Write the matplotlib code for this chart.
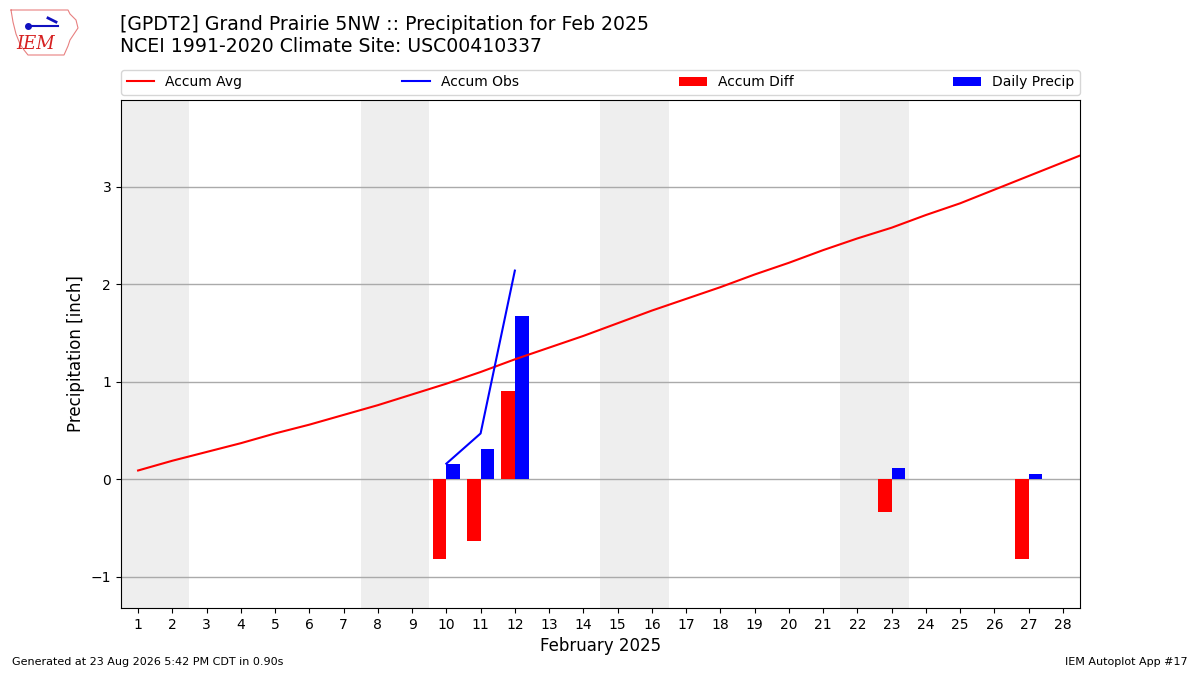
import matplotlib
matplotlib.use('Agg')
import matplotlib.pyplot as plt
import numpy as np

# climatology accumulated average, days 1..29 (29 used only to run line to the edge)
avg_days = np.arange(1, 30)
accum_avg = [0.09, 0.19, 0.28, 0.37, 0.47, 0.56, 0.66, 0.76, 0.87, 0.98,
             1.10, 1.23, 1.35, 1.47, 1.60, 1.73, 1.85, 1.97, 2.10, 2.22,
             2.35, 2.47, 2.58, 2.71, 2.83, 2.97, 3.11, 3.25, 3.39]

obs_days = [10, 11, 12]
accum_obs = [0.16, 0.47, 2.14]

precip_days = [10, 11, 12, 23, 27]
daily_precip = [0.16, 0.31, 1.67, 0.12, 0.05]
accum_diff = [-0.82, -0.63, 0.91, -0.34, -0.82]

weekend_starts = [1, 8, 15, 22]
xticks = list(range(1, 29))

fig = plt.figure(figsize=(12, 6.75), dpi=100)
ax = fig.add_axes([0.1008, 0.0993, 0.7992, 0.7526])

for d in weekend_starts:
    ax.axvspan(d - 0.5, d + 1.5, color='#eeeeee', zorder=0, lw=0)

ax.plot(avg_days, accum_avg, color='r', lw=1.5, label='Accum Avg', zorder=3)
ax.plot(obs_days, accum_obs, color='b', lw=1.5, label='Accum Obs', zorder=3)
ax.bar(precip_days, accum_diff, width=-0.4, align='edge', color='r',
       label='Accum Diff', zorder=2)
ax.bar(precip_days, daily_precip, width=0.4, align='edge', color='b',
       label='Daily Precip', zorder=2)

ax.set_xlim(0.5, 28.5)
ax.set_ylim(-1.32, 3.89)
ax.set_xticks(xticks)
ax.set_yticks([-1, 0, 1, 2, 3])
ax.yaxis.grid(True, color='#aaaaaa', lw=1)
ax.set_axisbelow(True)
ax.set_xlabel('February 2025', fontsize=12)
ax.set_ylabel('Precipitation [inch]', fontsize=12)
ax.tick_params(labelsize=10)

ax.legend(loc='lower left', bbox_to_anchor=(0, 1.01, 1, 0.05), ncol=4,
          mode='expand', borderaxespad=0, fontsize=10)

fig.text(0.1, 1 - 24 / 675, '[GPDT2] Grand Prairie 5NW :: Precipitation for Feb 2025',
         fontsize=13.6, va='center', ha='left')
fig.text(0.1, 1 - 47 / 675, 'NCEI 1991-2020 Climate Site: USC00410337',
         fontsize=13.6, va='center', ha='left')

fig.text(0.01, 0.015, 'Generated at 23 Aug 2026 5:42 PM CDT in 0.90s', fontsize=8)
fig.text(0.99, 0.015, 'IEM Autoplot App #17', fontsize=8, ha='right')

# rough IEM logo
lax = fig.add_axes([8 / 1200, 1 - 58 / 675, 72 / 1200, 52 / 675])
lax.set_xlim(0, 72)
lax.set_ylim(0, 52)
lax.axis('off')
outline_x = [3, 60, 62, 68, 70, 66, 62, 60, 56, 20, 16, 12, 8, 5, 3]
outline_y = [48, 48, 44, 38, 30, 24, 18, 12, 3, 3, 8, 14, 24, 36, 48]
lax.plot(outline_x, outline_y, color='#e88080', lw=0.8)
lax.text(28, 14, 'IEM', color='#d62020', fontsize=13, fontstyle='italic',
         family='DejaVu Serif', ha='center', va='center')
lax.plot([20, 50], [32, 32], color='#1010c0', lw=1.5)
lax.plot([20], [32], 'o', color='#1010c0', ms=4)
lax.plot([40, 48], [40, 36], color='#1010c0', lw=2)

fig.savefig('out.png', dpi=100)
